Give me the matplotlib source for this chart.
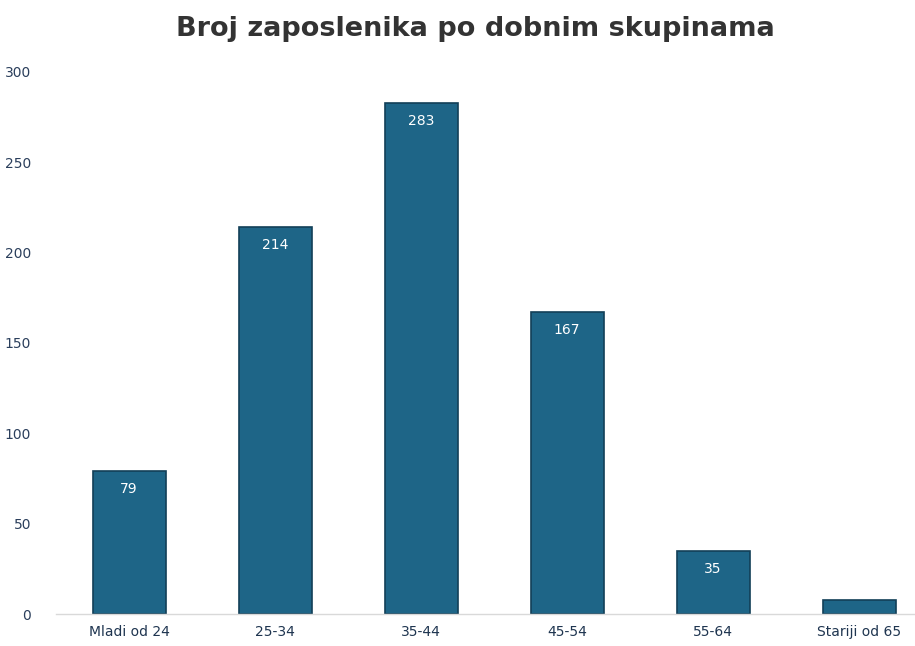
import matplotlib
matplotlib.use("Agg")
import matplotlib.pyplot as plt

categories = ["Mladi od 24", "25-34", "35-44", "45-54", "55-64", "Stariji od 65"]
values = [79, 214, 283, 167, 35, 8]
labels = ["79", "214", "283", "167", "35", ""]

fig = plt.figure(figsize=(9.15, 6.46), dpi=100)
ax = fig.add_axes([56 / 915, 32 / 646, 876 / 915, 542 / 646])
x = range(len(categories))
bars = ax.bar(x, values, width=0.5, color="#1e6587", edgecolor="#123f58", linewidth=1.2)
for b, lab in zip(bars, labels):
    if lab:
        ax.text(b.get_x() + b.get_width() / 2, b.get_height() - 6, lab,
                ha="center", va="top", color="white", fontsize=10)

ax.set_xlim(-0.5, 5.5)
ax.set_ylim(0, 300)
ax.set_yticks([0, 50, 100, 150, 200, 250, 300])
ax.set_xticks(list(x))
ax.set_xticklabels(categories, fontsize=10, color="#1f3550")
ax.tick_params(axis="y", labelsize=10, labelcolor="#2b3f5c", length=0, pad=18)
ax.tick_params(axis="x", length=0, pad=8)
for s in ["top", "right", "left"]:
    ax.spines[s].set_visible(False)
ax.spines["bottom"].set_color("#d9d9d9")
ax.spines["bottom"].set_linewidth(1)

fig.text(475 / 915, 1 - 29 / 646, "Broj zaposlenika po dobnim skupinama",
         ha="center", va="center", fontsize=19.5, fontweight="bold", color="#333333")

fig.savefig("out.png", dpi=100)
